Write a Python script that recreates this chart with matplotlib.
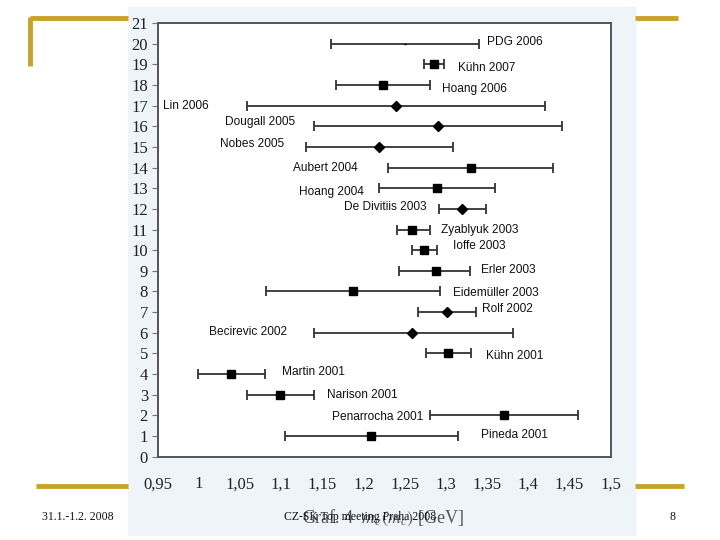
import matplotlib
matplotlib.use("Agg")
import matplotlib.pyplot as plt
import numpy as np

# charm quark mass determinations, m_c(m_c) [GeV]
names = ["Pineda 2001", "Penarrocha 2001", "Narison 2001", "Martin 2001", "Kühn 2001",
         "Becirevic 2002", "Rolf 2002", "Eidemüller 2003", "Erler 2003", "Ioffe 2003",
         "Zyablyuk 2003", "De Divitiis 2003", "Hoang 2004", "Aubert 2004", "Nobes 2005",
         "Dougall 2005", "Lin 2006", "Hoang 2006", "Kühn 2007", "PDG 2006"]
rows = list(range(1, 21))
mc = [1.209, 1.370, 1.099, 1.039, 1.302,
      1.259, 1.301, 1.187, 1.288, 1.273,
      1.259, 1.319, 1.289, 1.330, 1.219,
      1.290, 1.239, 1.223, 1.286, 1.250]
err_lo = [0.105, 0.089, 0.040, 0.040, 0.026,
          0.119, 0.035, 0.106, 0.045, 0.014,
          0.019, 0.027, 0.070, 0.100, 0.089,
          0.150, 0.180, 0.056, 0.013, 0.090]
err_hi = [0.106, 0.090, 0.041, 0.041, 0.028,
          0.122, 0.035, 0.106, 0.041, 0.016,
          0.021, 0.029, 0.071, 0.100, 0.090,
          0.151, 0.181, 0.057, 0.012, 0.090]
# marker: s = square, D = diamond, _ = tiny dash (PDG)
markers = ["s", "s", "s", "s", "s",
           "D", "D", "s", "s", "s",
           "s", "D", "s", "s", "D",
           "D", "D", "s", "s", "_"]

# where the names sit (data coords) and alignment
label_x = [1.343, 1.272, 1.155, 1.101, 1.349,
           1.107, 1.344, 1.308, 1.343, 1.308,
           1.294, 1.277, 1.2005, 1.193, 1.1033,
           1.1167, 0.9564, 1.295, 1.315, 1.3495]
label_dy = [0.06, -0.08, 0.0, 0.1, -0.11,
            0.06, 0.13, -0.08, 0.05, 0.18,
            0.0, 0.1, -0.16, 0.0, 0.13,
            0.2, 0.0, -0.2, -0.2, 0.1]
label_ha = ["left", "right", "left", "left", "left",
            "right", "left", "left", "left", "left",
            "left", "right", "right", "right", "right",
            "right", "left", "left", "left", "left"]

xticks = [0.95, 1.0, 1.05, 1.1, 1.15, 1.2, 1.25, 1.3, 1.35, 1.4, 1.45, 1.5]
xticklabels = ["0,95", "1", "1,05", "1,1", "1,15", "1,2", "1,25", "1,3", "1,35", "1,4", "1,45", "1,5"]

W, H = 720, 540
fig = plt.figure(figsize=(7.2, 5.4), dpi=100)
fig.patch.set_facecolor("white")

# slide decoration (pixel coords on a full-figure axis)
bg = fig.add_axes([0, 0, 1, 1])
bg.set_xlim(0, W)
bg.set_ylim(H, 0)
bg.axis("off")
bg.add_patch(plt.Rectangle((128, 7), 507, 528, color="#eff3fa", zorder=0))
gold = "#c9a227"
bg.plot([30, 128], [18, 18], color=gold, lw=3.5, solid_capstyle="butt")
bg.plot([30, 30], [16.5, 66], color=gold, lw=3.5, solid_capstyle="butt")
bg.plot([635, 678], [18, 18], color=gold, lw=3.5, solid_capstyle="butt")
bg.plot([36, 128], [486, 486], color=gold, lw=3.5, solid_capstyle="butt")
bg.plot([635, 684], [486, 486], color=gold, lw=3.5, solid_capstyle="butt")
bg.text(78, 517, "31.1.-1.2. 2008", ha="center", va="center", fontsize=8.5,
        family="Liberation Serif", color="#111111")
bg.text(673, 517, "8", ha="center", va="center", fontsize=8.5,
        family="Liberation Serif", color="#111111")
# the axis title sits under the footer text, as on the slide
bg.text(383, 518, "Graf. 4  $m_c(m_c)$ [GeV]", ha="center", va="center", fontsize=13,
        family="Liberation Serif", color="#555555", math_fontfamily="stix")
bg.text(360, 517, "CZ-SK Top meeting Praha 2008", ha="center", va="center", fontsize=8.5,
        family="Liberation Serif", color="#111111")

ax = fig.add_axes([157.7 / W, 1 - 456.7 / H, 453 / W, (456.7 - 23) / H])
ax.set_facecolor("white")

for i in range(len(names)):
    m = markers[i]
    ax.errorbar(mc[i], rows[i], xerr=[[err_lo[i]], [err_hi[i]]],
                fmt=m, color="black", ecolor="#333333", elinewidth=1.3,
                capsize=3.5, capthick=1.3,
                markersize=1 if m == "_" else (5.2 if m == "s" else 4.6),
                zorder=3)
    ax.text(label_x[i], rows[i] + label_dy[i], names[i], ha=label_ha[i], va="center",
            fontsize=8.6, family="Liberation Sans", color="#111111")

ax.set_xlim(0.95, 1.5)
ax.set_ylim(0, 21)
ax.set_yticks(range(0, 22))
ax.set_xticks(xticks)
ax.set_xticklabels(xticklabels)
for lab in ax.get_yticklabels() + ax.get_xticklabels():
    lab.set_family("Liberation Serif")
    lab.set_fontsize(12)
    lab.set_color("#222222")
ax.tick_params(axis="y", length=4, width=0.8, color="#777777", pad=3)
ax.tick_params(axis="x", length=0, pad=14)
for sp in ax.spines.values():
    sp.set_color("#555555")
    sp.set_linewidth(1.4)

fig.savefig("out.png", dpi=100)
